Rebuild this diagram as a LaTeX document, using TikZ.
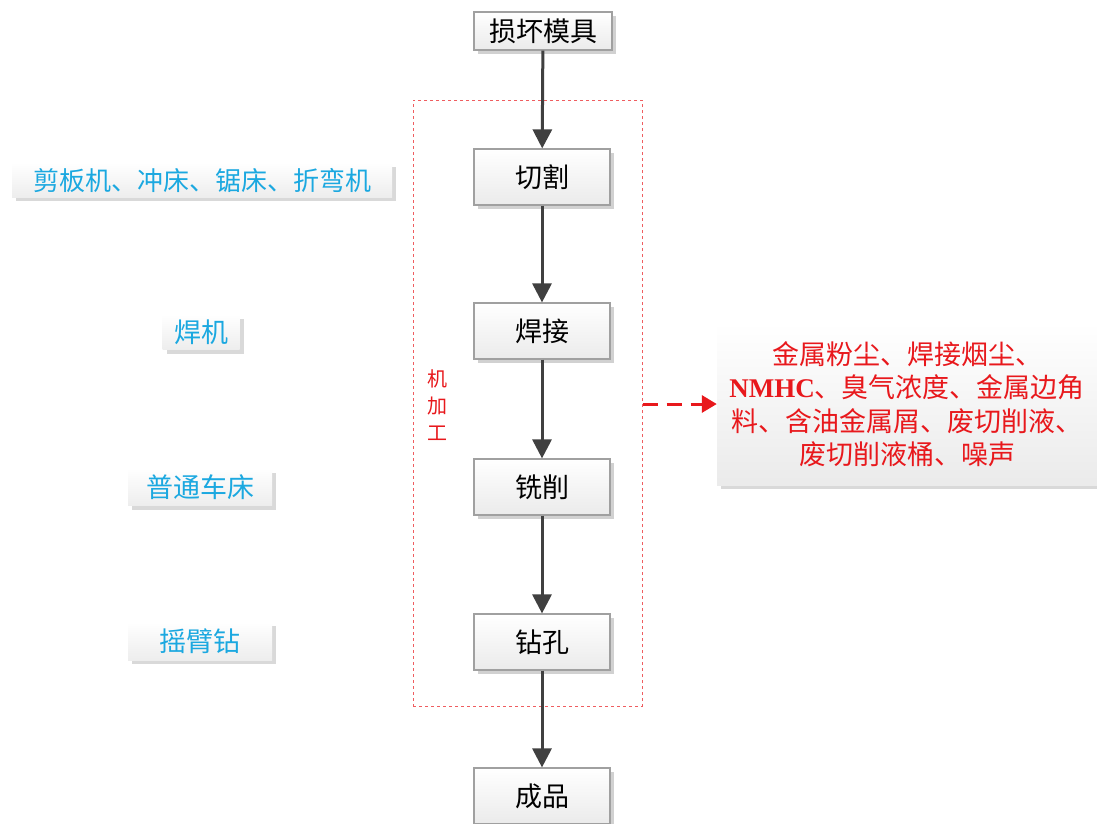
\documentclass[tikz,border=0pt]{standalone}
\usepackage{fontspec}
\setmainfont{Liberation Serif}
\newfontfamily\cjk{Noto Sans CJK SC}
\usetikzlibrary{arrows.meta,shadows}
\definecolor{arrowgray}{HTML}{404040}
\definecolor{boxborder}{HTML}{A0A0A0}
\definecolor{sky}{HTML}{1BA8E0}
\definecolor{redtxt}{HTML}{E8181C}
\tikzset{
  procbox/.style={draw=boxborder, line width=1.2pt, top color=white, bottom color=black!8,
    minimum width=136pt, minimum height=56pt, inner sep=0pt,
    drop shadow={shadow xshift=4pt, shadow yshift=-4pt, fill=black!18, opacity=1},
    font=\cjk\fontsize{27}{30}\selectfont},
  equipbox/.style={draw=none, top color=white, bottom color=black!7, inner sep=0pt,
    drop shadow={shadow xshift=4pt, shadow yshift=-4pt, fill=black!15, opacity=1},
    text=sky, font=\cjk\fontsize{27}{30}\selectfont},
  flow/.style={draw=arrowgray, line width=3pt, -{Triangle[width=19pt,length=19pt]}},
  emitarrow/.style={draw=redtxt, line width=3pt, dash pattern=on 15pt off 9pt, -{Triangle[width=17pt,length=15pt]}},
}
\begin{document}
\begin{tikzpicture}[x=1pt,y=-1pt]
\useasboundingbox (0,0) rectangle (1097,823);
\fill[white] (0,0) rectangle (1097,823);
% dashed machining frame
\node[draw=redtxt!70, dashed, line width=1pt, minimum width=229pt, minimum height=606pt, inner sep=0pt] (frame) at (527.5,403) {};
\node[text=redtxt, font=\cjk\fontsize{20}{27}\selectfont, align=center, inner sep=0pt] (jjg) at (437,405) {机\\加\\工};
% process boxes
\node[procbox, minimum width=138pt, minimum height=38pt] (s0) at (543,31) {损坏模具};
\node[procbox] (s1) at (542,177) {切割};
\node[procbox] (s2) at (542,331) {焊接};
\node[procbox] (s3) at (542,487) {铣削};
\node[procbox] (s4) at (542,642) {钻孔};
\node[procbox] (s5) at (542,796) {成品};
\draw[flow] (s0) -- (s1);
\draw[flow] (s1) -- (s2);
\draw[flow] (s2) -- (s3);
\draw[flow] (s3) -- (s4);
\draw[flow] (s4) -- (s5);
% equipment
\node[equipbox, minimum width=380pt, minimum height=34pt, font=\cjk\fontsize{26}{30}\selectfont] (e1) at (202,180) {剪板机、冲床、锯床、折弯机};
\node[equipbox, minimum width=77pt, minimum height=35pt] (e2) at (201,332) {焊机};
\node[equipbox, minimum width=144pt, minimum height=37pt] (e3) at (200,487) {普通车床};
\node[equipbox, minimum width=144pt, minimum height=38pt] (e4) at (200,641) {摇臂钻};
% emissions
\node[draw=none, top color=white, bottom color=black!8, minimum width=380pt, minimum height=162pt, inner sep=0pt,
  drop shadow={shadow xshift=4pt, shadow yshift=-4pt, fill=black!15, opacity=1},
  text=redtxt, font=\cjk\fontsize{27}{33.5}\selectfont, align=center] (emit) at (907,404)
  {金属粉尘、焊接烟尘、\\{\rmfamily\bfseries NMHC}、臭气浓度、金属边角\\料、含油金属屑、废切削液、\\废切削液桶、噪声};
\coordinate (fr) at (frame.east |- emit.west);
\draw[emitarrow] (fr) -- (emit.west);
\end{tikzpicture}
\end{document}
